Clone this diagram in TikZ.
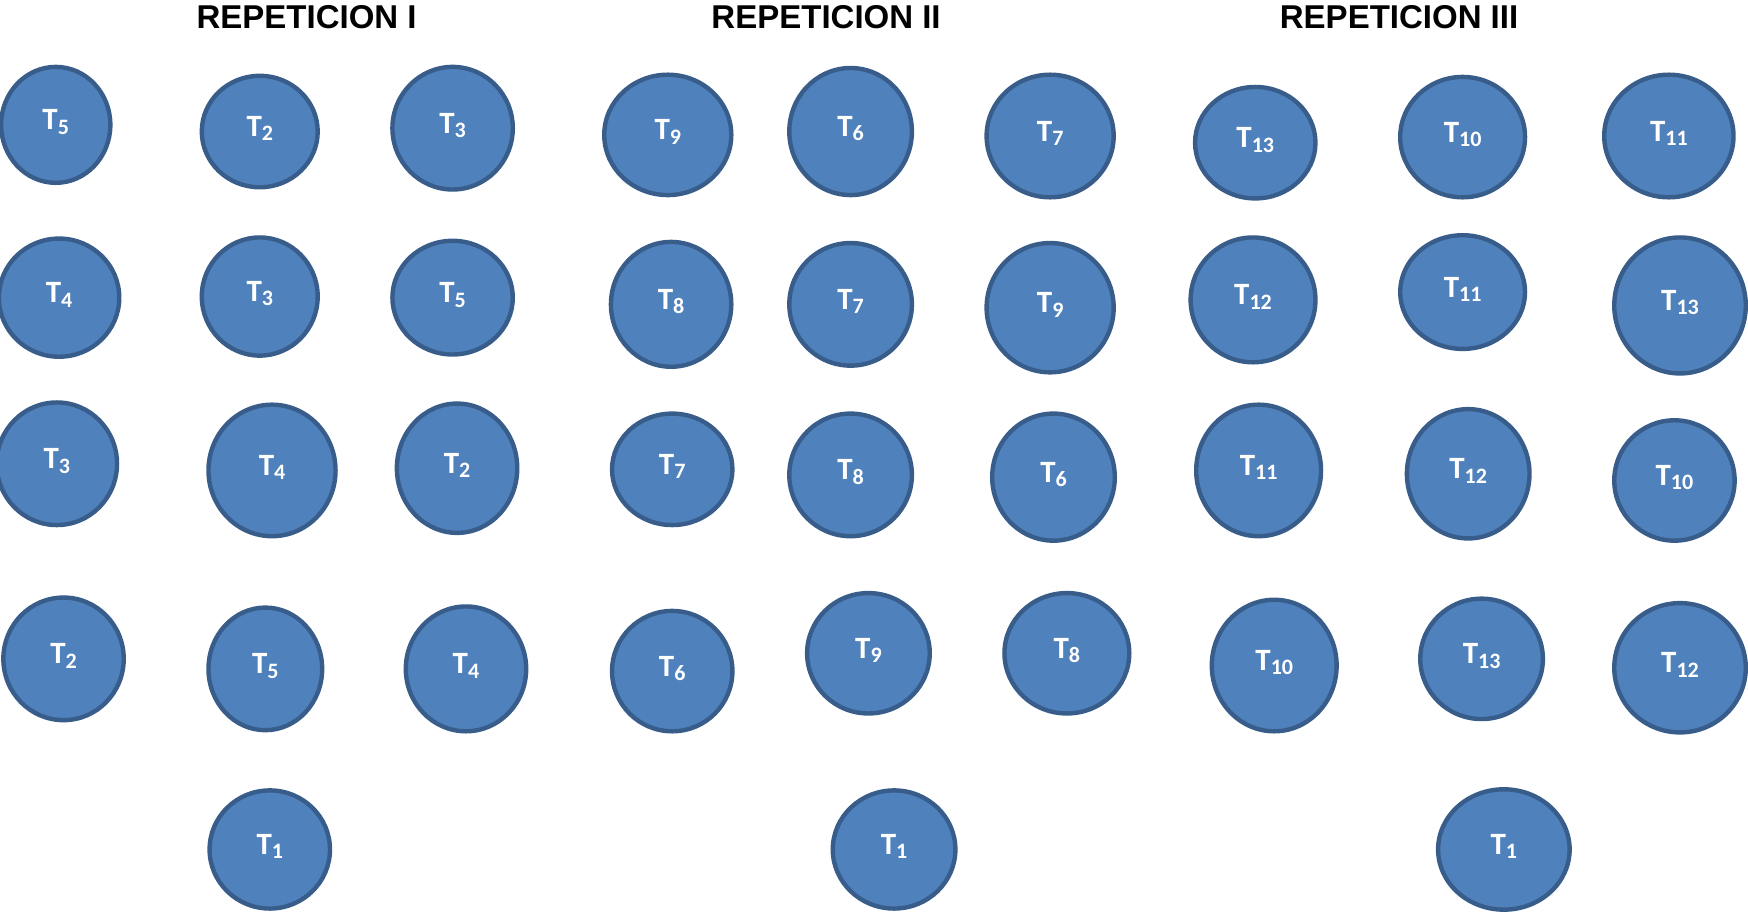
\documentclass[tikz,border=0pt]{standalone}
\usepackage{fontspec}
\setmainfont{Carlito}
\newfontfamily\titlefont{Liberation Sans}
\usetikzlibrary{shapes.geometric}
\definecolor{tblue}{HTML}{4F81BD}
\definecolor{tedge}{HTML}{385D8A}
\newcommand\tsub[1]{T{\fontsize{11}{11}\selectfont\raisebox{-0.2em}{#1}}}
\tikzset{
  trat/.style={ellipse, fill=tblue, draw=tedge, line width=2.2pt, inner sep=0pt,
    text=white, text depth=5pt, font=\bfseries\fontsize{15.5}{15.5}\selectfont},
  titulo/.style={font=\titlefont\bfseries\fontsize{16.5}{17}\selectfont}
}
\begin{document}
\begin{tikzpicture}[x=0.5574pt,y=-0.5574pt]
\useasboundingbox (0,0) rectangle (1568,818);

\node[titulo] (rep1) at (275,15) {REPETICION I};
\node[titulo] (rep2) at (741,15) {REPETICION II};
\node[titulo] (rep3) at (1255,15) {REPETICION III};

% repeticion I
\foreach \n/\x/\y/\rx/\ry/\t in {a/50/112/49/52/5, b/233/118/52/50/2, c/406/115/54/55/3,
  d/53/267/54/53/4, e/233/266/52/53/3, f/406/267/54/51/5,
  g/51/416/54/55/3, h/244/422/57/59/4, i/410/420/54/58/2,
  j/57/591/54/55/2, k/238/600/51/55/5, l/418/600/54/56/4, m/242/762/54/53/1}
  \node[trat, minimum width=\rx*1.1148pt, minimum height=\ry*1.1148pt] (r1\n) at (\x,\y) {\tsub{\t}};

% repeticion II
\foreach \n/\x/\y/\rx/\ry/\t in {a/599/121/57/54/9, b/763/118/55/57/6, c/942/122/57/55/7,
  d/602/273/54/56/8, e/763/273/55/55/7, f/942/276/57/58/9,
  g/603/421/54/50/7, h/763/426/55/55/8, i/945/428/55/57/6,
  j/603/602/54/54/6, k/779/586/55/54/9, l/957/586/56/54/8, m/802/762/55/53/1}
  \node[trat, minimum width=\rx*1.1148pt, minimum height=\ry*1.1148pt] (r2\n) at (\x,\y) {\tsub{\t}};

% repeticion III
\foreach \n/\x/\y/\rx/\ry/\t in {a/1126/128/54/50/13, b/1312/123/56/54/10, c/1497/122/58/55/11,
  d/1124/269/56/56/12, e/1312/262/56/51/11, f/1507/274/59/61/13,
  g/1129/422/56/59/11, h/1317/425/55/58/12, i/1502/431/54/54/10,
  j/1143/597/56/59/10, k/1329/591/55/54/13, l/1507/599/59/58/12, m/1349/762/59/54/1}
  \node[trat, minimum width=\rx*1.1148pt, minimum height=\ry*1.1148pt] (r3\n) at (\x,\y) {\tsub{\t}};
\end{tikzpicture}
\end{document}
